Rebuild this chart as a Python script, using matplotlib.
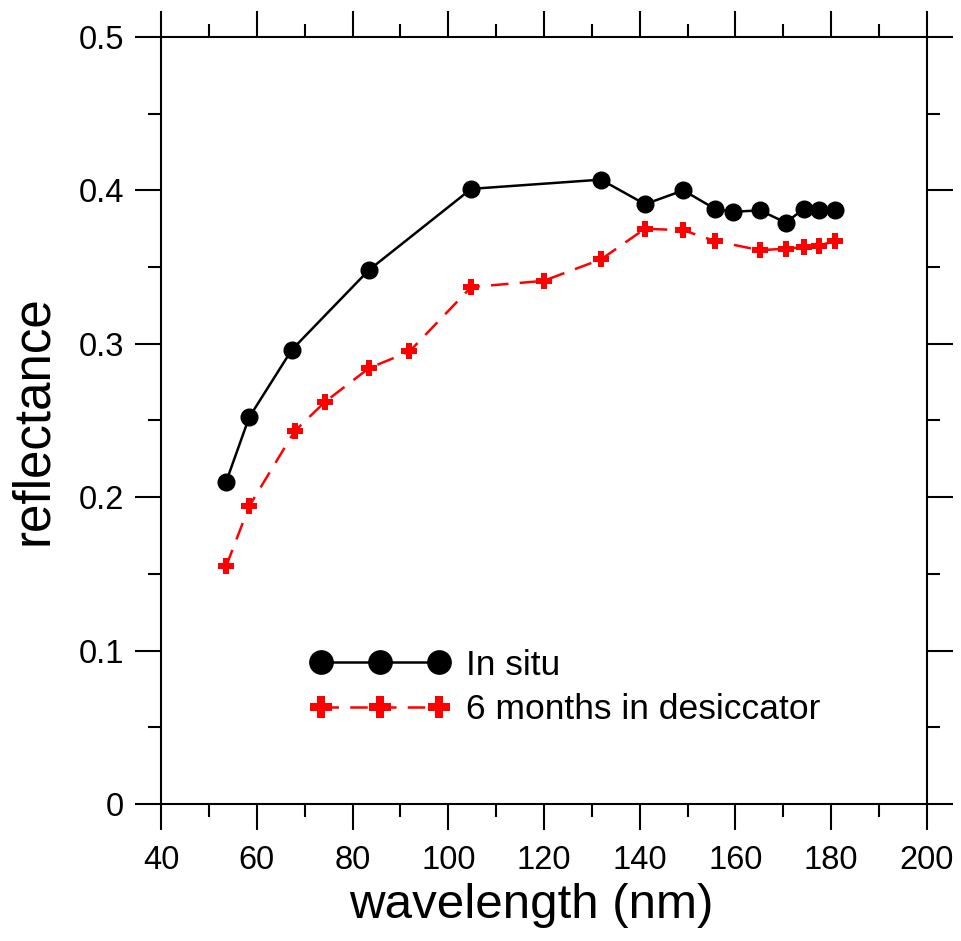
import matplotlib.pyplot as plt
import numpy as np

plt.rcParams['font.family'] = ['Liberation Sans', 'DejaVu Sans']

# In situ
wl_situ = [53.6, 58.4, 67.3, 83.4, 104.8, 131.9, 141.1, 149.1, 155.7, 159.4,
           165.1, 170.5, 174.3, 177.4, 180.8]
refl_situ = [0.210, 0.252, 0.296, 0.348, 0.401, 0.407, 0.391, 0.400, 0.388,
             0.386, 0.387, 0.379, 0.388, 0.387, 0.387]

# 6 months in desiccator
wl_des = [53.6, 58.4, 67.9, 74.2, 83.4, 91.9, 104.8, 119.9, 131.9, 141.1,
          149.1, 155.7, 165.1, 170.5, 174.3, 177.4, 180.8]
refl_des = [0.155, 0.194, 0.243, 0.262, 0.284, 0.295, 0.337, 0.341, 0.355,
            0.375, 0.374, 0.367, 0.361, 0.362, 0.363, 0.364, 0.367]

fig = plt.figure(figsize=(9.62, 9.41), dpi=100)
ax = fig.add_axes([0.1674, 0.1456, 0.7962, 0.8151])

ax.plot(wl_situ, refl_situ, '-', color='black', lw=1.8, marker='o',
        markersize=12, label='In situ')
ax.plot(wl_des, refl_des, color='red', lw=1.8, linestyle=(0, (7, 4.5)),
        marker='P', markersize=11.5, markeredgewidth=0,
        label='6 months in desiccator')

ax.set_xlim(40, 200)
ax.set_ylim(0, 0.5)
ax.set_xticks(np.arange(40, 201, 20))
ax.set_xticks(np.arange(50, 200, 20), minor=True)
ax.set_yticks(np.arange(0, 0.51, 0.1))
ax.set_yticks(np.arange(0.05, 0.5, 0.1), minor=True)
ax.set_yticklabels(['0', '0.1', '0.2', '0.3', '0.4', '0.5'])

ax.tick_params(which='both', direction='out', top=True, right=True,
               width=1.5, labelsize=23.5)
ax.tick_params(which='major', length=18.5)
ax.tick_params(which='minor', length=9.5)
ax.tick_params(axis='x', pad=11)
ax.tick_params(axis='y', pad=8)
for s in ax.spines.values():
    s.set_linewidth(1.5)

ax.set_xlabel('wavelength (nm)', fontsize=35.5)
ax.xaxis.set_label_coords(0.483, -0.103)
ax.set_ylabel('reflectance', fontsize=36.8, labelpad=15)

ax.legend(loc='upper left', bbox_to_anchor=(0.176, 0.221), frameon=False,
          numpoints=3, handlelength=3.95, handletextpad=0.45, fontsize=25.5,
          markerscale=1.4, labelspacing=0.33, borderaxespad=0)

fig.savefig('out.png', dpi=100)
